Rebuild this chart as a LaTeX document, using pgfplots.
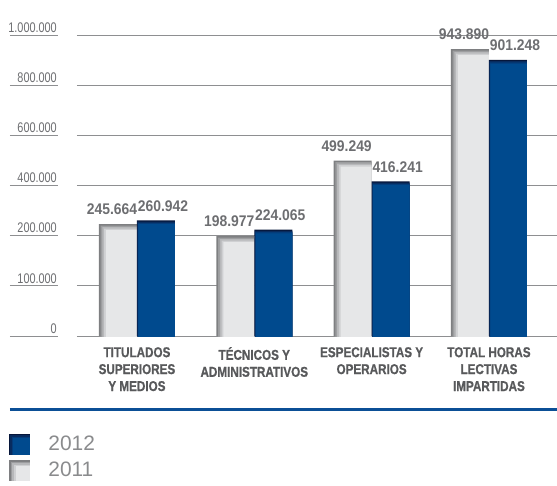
\documentclass[border=0pt]{standalone}
\usepackage{pgfplots}
\pgfplotsset{compat=1.18}
\usepackage{pgfplotstable}
\usepackage{fontspec}
\setmainfont{Liberation Sans}
\newfontfamily\condlab[FakeStretch=0.82, FakeBold=0.8]{Liberation Sans}
\newfontfamily\condval[FakeStretch=0.9]{Liberation Sans}
\newfontfamily\condtick[FakeStretch=0.78]{Liberation Sans}
\newcommand\cl{\condlab\bfseries\fontsize{14.3}{17}\selectfont}
\definecolor{txtgray}{HTML}{6D6E71}
\definecolor{catgray}{HTML}{58595B}
\definecolor{gridgray}{HTML}{8E8F91}
\definecolor{barlight}{HTML}{E6E7E8}
\definecolor{gd0}{HTML}{7E7F81}
\definecolor{gd1}{HTML}{9C9D9F}
\definecolor{gd2}{HTML}{B7B8BA}
\definecolor{gd3}{HTML}{CFD0D2}
\definecolor{barblue}{HTML}{004A8E}
\definecolor{bn0}{HTML}{06163A}
\definecolor{bn1}{HTML}{082B5E}
\definecolor{bn2}{HTML}{043C7A}
\definecolor{sepblue}{HTML}{0B4F96}
\definecolor{leggray}{HTML}{8A8B8D}

\pgfplotstableread{
x y
0 245664
1 198977
2 499249
3 943890
}\dataA
\pgfplotstableread{
x y
0 260942
1 224065
2 416241
3 901248
}\dataB

% one shaded layer of a bar series: width, shift, yshift, colour, table
\newcommand\barlayer[5]{\addplot[ybar, draw=none, forget plot, bar width=#1, bar shift=#2, yshift=#3, fill=#4] table[x=x,y=y]{#5};}

\begin{document}
\begin{tikzpicture}
\begin{axis}[name=ax, scale only axis, width=480bp, height=301bp,
  xmin=-0.511, xmax=3.58, ymin=0, ymax=6,
  y filter/.code={\pgfmathparse{#1<=200000 ? #1/100000 : 1+#1/200000}},
  axis line style={draw=none}, major tick length=0pt,
  ymajorgrids, grid style={gridgray, line width=0.8bp},
  ytick={0,1,2,3,4,5,6},
  yticklabels={0,100.000,200.000,400.000,600.000,800.000,1.000.000},
  yticklabel style={anchor=south east, inner sep=0pt, xshift=-20bp, yshift=2.5bp,
    font=\condtick\fontsize{14}{16}\selectfont, text=txtgray},
  xtick={0,1,2,3},
  xticklabels={{\cl TITULADOS\\\cl SUPERIORES\\\cl Y MEDIOS},{\cl TÉCNICOS Y\\\cl ADMINISTRATIVOS},{\cl ESPECIALISTAS Y\\\cl OPERARIOS},{\cl TOTAL HORAS\\\cl LECTIVAS\\\cl IMPARTIDAS}},
  xticklabel style={anchor=north, inner sep=0pt, yshift=-11bp, align=center,
    font=\cl, text=catgray},
  every node near coord/.append style={font=\condval\bfseries\fontsize{15.5}{18}\selectfont,
    text=txtgray, inner sep=0pt, yshift=9bp, anchor=south},
  legend style={draw=none, fill=none, at={(-0.1417,-0.325)}, anchor=north west,
    inner sep=0pt, outer sep=0pt, row sep=6bp, column sep=17bp,
    font=\fontsize{21}{21}\selectfont, text=leggray},
  legend cell align=left,
]
% 2011 (grey) bars, with labels
\addplot[ybar, draw=none, forget plot, bar width=38bp, bar shift=-19bp, fill=gd0,
  point meta=explicit,
  nodes near coords={\pgfmathprintnumber[fixed, precision=0, 1000 sep={.}, assume math mode=true]{\pgfplotspointmeta}},
  every node near coord/.append style={xshift=-25bp}]
  table[x=x, y=y, meta=y] {\dataA};
\barlayer{36.25bp}{-18.125bp}{-1.5bp}{gd1}{\dataA}
\barlayer{34.5bp}{-17.25bp}{-3bp}{gd2}{\dataA}
\barlayer{32.75bp}{-16.375bp}{-4.5bp}{gd3}{\dataA}
\barlayer{31bp}{-15.5bp}{-6bp}{barlight}{\dataA}
% 2012 (blue) bars, with labels
\addplot[ybar, draw=none, forget plot, bar width=38bp, bar shift=19bp, fill=bn0,
  point meta=explicit,
  nodes near coords={\pgfmathprintnumber[fixed, precision=0, 1000 sep={.}, assume math mode=true]{\pgfplotspointmeta}},
  every node near coord/.append style={xshift=26bp}]
  table[x=x, y=y, meta=y] {\dataB};
\barlayer{37.5bp}{19.25bp}{-1.25bp}{bn1}{\dataB}
\barlayer{37bp}{19.5bp}{-2.5bp}{bn2}{\dataB}
\barlayer{36.5bp}{19.75bp}{-3.75bp}{barblue}{\dataB}
% legend
\addlegendimage{legend image code/.code={
  \fill[bn0] (0bp,-10bp) rectangle (20bp,10bp);
  \fill[bn1] (1.5bp,-10bp) rectangle (20bp,8.5bp);
  \fill[bn2] (3bp,-10bp) rectangle (20bp,7bp);
  \fill[barblue] (4.5bp,-10bp) rectangle (20bp,5.5bp);}}
\addlegendentry{2012}
\addlegendimage{legend image code/.code={
  \fill[gd0] (0bp,-10bp) rectangle (20bp,10bp);
  \fill[gd1] (1.75bp,-10bp) rectangle (20bp,8.5bp);
  \fill[gd2] (3.5bp,-10bp) rectangle (20bp,7bp);
  \fill[gd3] (5.25bp,-10bp) rectangle (20bp,5.5bp);
  \fill[barlight] (7bp,-10bp) rectangle (20bp,4bp);}}
\addlegendentry{2011}
\end{axis}
\foreach \i in {0,...,6}
  \draw[gridgray, line width=0.8bp] ([xshift=-67bp, yshift=\i*50.1667bp]ax.south west) -- ++(48bp,0);
\draw[sepblue, line width=3bp] ([xshift=-67bp,yshift=-73bp]ax.south west) -- ([yshift=-73bp]ax.south east);
\pgfresetboundingbox
\path[use as bounding box] ([xshift=-77bp,yshift=-150bp]ax.south west) rectangle ([yshift=35bp]ax.north east);
\end{tikzpicture}
\end{document}
